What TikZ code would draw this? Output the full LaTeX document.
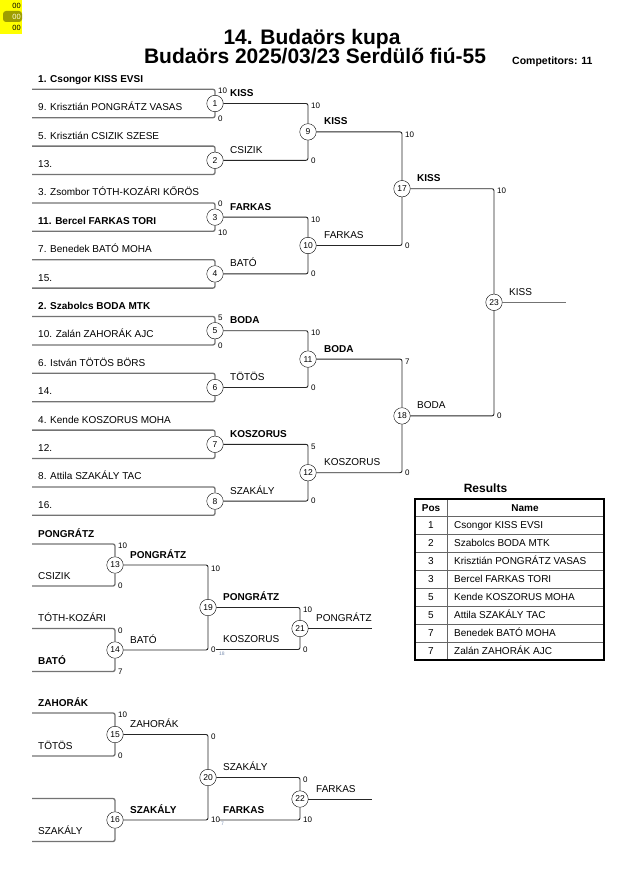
\documentclass[tikz,border=0pt]{standalone}
\usepackage{fontspec}
\setmainfont{Liberation Sans}
\usetikzlibrary{positioning,calc}
\definecolor{hlyellow}{RGB}{255,255,0}
\definecolor{hlolive}{RGB}{158,158,0}
\definecolor{refgray}{RGB}{120,140,175}
\tikzstyle{mnode}=[circle,inner sep=0pt,minimum size=16.5pt,draw=black,fill=white,font=\fontsize{8.5}{8.5}\selectfont]
\tikzstyle{pline}=[draw=black!55,line width=1.3pt,rounded corners=2pt]
\tikzstyle{bline}=[draw=black!85,line width=0.9pt,rounded corners=2pt]
\tikzstyle{pname}=[anchor=base west,inner sep=0pt,font=\fontsize{10}{10}\selectfont]
\tikzstyle{pbold}=[anchor=base west,inner sep=0pt,font=\fontsize{10}{10}\selectfont\bfseries]
\tikzstyle{score}=[anchor=west,inner sep=0pt,font=\fontsize{8}{8}\selectfont]
\tikzstyle{rcell}=[anchor=base west,inner sep=0pt,font=\fontsize{10}{10}\selectfont]
\tikzstyle{rpos}=[anchor=base,inner sep=0pt,font=\fontsize{10}{10}\selectfont]

\begin{document}
\begin{tikzpicture}[x=1pt,y=-1pt]
  \useasboundingbox (0,0) rectangle (630,891);

  % corner widget
  \fill [hlyellow] (0,0) rectangle (22,34);
  \fill [hlolive, rounded corners=3pt] (3,11) rectangle (22,22);
  \node [anchor=east, inner sep=0pt, font=\fontsize{7.5}{7.5}\selectfont] at (21,5.5) (z1) {00};
  \node [anchor=east, inner sep=0pt, font=\fontsize{7.5}{7.5}\selectfont, text=white!85!yellow] at (21,16.5) (z2) {00};
  \node [anchor=east, inner sep=0pt, font=\fontsize{7.5}{7.5}\selectfont] at (21,28) (z3) {00};

  % title
  \node [anchor=base, inner sep=0pt, font=\fontsize{21}{21}\selectfont\bfseries] at (312,45) (title1) {14. Budaörs kupa};
  \node [anchor=base, inner sep=0pt, font=\fontsize{21}{21}\selectfont\bfseries] at (315,63.5) (title2) {Budaörs 2025/03/23 Serdülő fiú-55};
  \node [anchor=base west, inner sep=0pt, font=\fontsize{10.5}{10.5}\selectfont\bfseries] at (512,64) (comp) {Competitors: 11};

  % main bracket, matches
  \node [mnode] at (215, 103.5) (m1) {1};
  \node [mnode] at (215, 160.3) (m2) {2};
  \node [mnode] at (215, 217.1) (m3) {3};
  \node [mnode] at (215, 273.9) (m4) {4};
  \node [mnode] at (215, 330.7) (m5) {5};
  \node [mnode] at (215, 387.5) (m6) {6};
  \node [mnode] at (215, 444.3) (m7) {7};
  \node [mnode] at (215, 501.1) (m8) {8};
  \node [mnode] at (308, 131.9) (m9) {9};
  \node [mnode] at (308, 245.5) (m10) {10};
  \node [mnode] at (308, 359.1) (m11) {11};
  \node [mnode] at (308, 472.7) (m12) {12};
  \node [mnode] at (402, 188.7) (m17) {17};
  \node [mnode] at (402, 415.9) (m18) {18};
  \node [mnode] at (494, 302.3) (m23) {23};
  \coordinate (w23) at (566, 302.3);

  \coordinate (a1) at (32, 89.3);
  \coordinate (a2) at (32, 117.7);
  \coordinate (a3) at (32, 146.1);
  \coordinate (a4) at (32, 174.5);
  \coordinate (a5) at (32, 202.9);
  \coordinate (a6) at (32, 231.3);
  \coordinate (a7) at (32, 259.7);
  \coordinate (a8) at (32, 288.1);
  \coordinate (a9) at (32, 316.5);
  \coordinate (a10) at (32, 344.9);
  \coordinate (a11) at (32, 373.3);
  \coordinate (a12) at (32, 401.7);
  \coordinate (a13) at (32, 430.1);
  \coordinate (a14) at (32, 458.5);
  \coordinate (a15) at (32, 486.9);
  \coordinate (a16) at (32, 515.3);

  \draw [pline] (a1) -| (m1);
  \draw [pline] (a2) -| (m1);
  \draw [pline] (a3) -| (m2);
  \draw [pline] (a4) -| (m2);
  \draw [pline] (a5) -| (m3);
  \draw [pline] (a6) -| (m3);
  \draw [pline] (a7) -| (m4);
  \draw [pline] (a8) -| (m4);
  \draw [pline] (a9) -| (m5);
  \draw [pline] (a10) -| (m5);
  \draw [pline] (a11) -| (m6);
  \draw [pline] (a12) -| (m6);
  \draw [pline] (a13) -| (m7);
  \draw [pline] (a14) -| (m7);
  \draw [pline] (a15) -| (m8);
  \draw [pline] (a16) -| (m8);

  \draw [bline] (m1) -| (m9);
  \draw [bline] (m2) -| (m9);
  \draw [bline] (m3) -| (m10);
  \draw [bline] (m4) -| (m10);
  \draw [bline] (m5) -| (m11);
  \draw [bline] (m6) -| (m11);
  \draw [bline] (m7) -| (m12);
  \draw [bline] (m8) -| (m12);
  \draw [bline] (m9) -| (m17);
  \draw [bline] (m10) -| (m17);
  \draw [bline] (m11) -| (m18);
  \draw [bline] (m12) -| (m18);
  \draw [bline] (m17) -| (m23);
  \draw [bline] (m18) -| (m23);
  \draw [pline] (m23) -- (w23);

  % competitors
  \node [pbold] at (38, 82.3) (t1) {1. Csongor KISS EVSI};
  \node [pname] at (38, 110.7) (t2) {9. Krisztián PONGRÁTZ VASAS};
  \node [pname] at (38, 139.1) (t3) {5. Krisztián CSIZIK SZESE};
  \node [pname] at (38, 167.5) (t4) {13.};
  \node [pname] at (38, 195.9) (t5) {3. Zsombor TÓTH-KOZÁRI KŐRÖS};
  \node [pbold] at (38, 224.3) (t6) {11. Bercel FARKAS TORI};
  \node [pname] at (38, 252.7) (t7) {7. Benedek BATÓ MOHA};
  \node [pname] at (38, 281.1) (t8) {15.};
  \node [pbold] at (38, 309.5) (t9) {2. Szabolcs BODA MTK};
  \node [pname] at (38, 337.9) (t10) {10. Zalán ZAHORÁK AJC};
  \node [pname] at (38, 366.3) (t11) {6. István TÖTÖS BÖRS};
  \node [pname] at (38, 394.7) (t12) {14.};
  \node [pname] at (38, 423.1) (t13) {4. Kende KOSZORUS MOHA};
  \node [pname] at (38, 451.5) (t14) {12.};
  \node [pname] at (38, 479.9) (t15) {8. Attila SZAKÁLY TAC};
  \node [pname] at (38, 508.3) (t16) {16.};

  % winners
  \node [pbold] at (230, 96.5) (n1) {KISS};
  \node [pname] at (230, 153.3) (n2) {CSIZIK};
  \node [pbold] at (230, 210.1) (n3) {FARKAS};
  \node [pname] at (230, 266.9) (n4) {BATÓ};
  \node [pbold] at (230, 323.7) (n5) {BODA};
  \node [pname] at (230, 380.5) (n6) {TÖTÖS};
  \node [pbold] at (230, 437.3) (n7) {KOSZORUS};
  \node [pname] at (230, 494.1) (n8) {SZAKÁLY};
  \node [pbold] at (324, 124.9) (n9) {KISS};
  \node [pname] at (324, 238.5) (n10) {FARKAS};
  \node [pbold] at (324, 352.1) (n11) {BODA};
  \node [pname] at (324, 465.7) (n12) {KOSZORUS};
  \node [pbold] at (417, 181.7) (n17) {KISS};
  \node [pname] at (417, 408.9) (n18) {BODA};
  \node [pname] at (509, 295.3) (n23) {KISS};

  % scores
  \node [score] at (218, 90.3) {10};
  \node [score] at (218, 118.7) {0};
  \node [score] at (218, 203.9) {0};
  \node [score] at (218, 232.3) {10};
  \node [score] at (218, 317.5) {5};
  \node [score] at (218, 345.9) {0};
  \node [score] at (311, 106) {10};
  \node [score] at (311, 160.3) {0};
  \node [score] at (311, 219.6) {10};
  \node [score] at (311, 273.9) {0};
  \node [score] at (311, 333.2) {10};
  \node [score] at (311, 387.5) {0};
  \node [score] at (311, 446.8) {5};
  \node [score] at (311, 501.1) {0};
  \node [score] at (405, 134.4) {10};
  \node [score] at (405, 245.5) {0};
  \node [score] at (405, 361.6) {7};
  \node [score] at (405, 472.7) {0};
  \node [score] at (497, 191.2) {10};
  \node [score] at (497, 415.9) {0};

  % repechage 1
  \node [mnode] at (115, 565) (m13) {13};
  \node [mnode] at (115, 650) (m14) {14};
  \node [mnode] at (208, 607.5) (m19) {19};
  \node [mnode] at (300, 628.5) (m21) {21};
  \coordinate (b1) at (32, 544);
  \coordinate (b2) at (32, 586);
  \coordinate (b3) at (32, 628.5);
  \coordinate (b4) at (32, 671.5);
  \coordinate (k18) at (216, 649.5);
  \coordinate (w21) at (372, 628.5);

  \draw [pline] (b1) -| (m13);
  \draw [pline] (b2) -| (m13);
  \draw [pline] (b3) -| (m14);
  \draw [pline] (b4) -| (m14);
  \draw [bline] (m13) -| (m19);
  \draw [bline] (m14) -| (m19);
  \draw [bline] (m19) -| (m21);
  \draw [bline] (k18) -| (m21);
  \draw [bline] (m21) -- (w21);

  \node [pbold] at (38, 537) (u1) {PONGRÁTZ};
  \node [pname] at (38, 579) (u2) {CSIZIK};
  \node [pname] at (38, 621.5) (u3) {TÓTH-KOZÁRI};
  \node [pbold] at (38, 664.5) (u4) {BATÓ};
  \node [pbold] at (130, 558) (n13) {PONGRÁTZ};
  \node [pname] at (130, 643) (n14) {BATÓ};
  \node [pbold] at (223, 600.5) (n19) {PONGRÁTZ};
  \node [pname] at (223, 642.5) (nk18) {KOSZORUS};
  \node [pname] at (316, 621.5) (n21) {PONGRÁTZ};

  \node [score] at (118, 546) {10};
  \node [score] at (118, 586) {0};
  \node [score] at (118, 630.5) {0};
  \node [score] at (118, 671.5) {7};
  \node [score] at (211, 569) {10};
  \node [score] at (211, 650) {0};
  \node [score] at (303, 610) {10};
  \node [score] at (303, 649.5) {0};
  \node [score, font=\fontsize{5}{5}\selectfont, text=refgray] at (219, 654) {18};

  % repechage 2
  \node [mnode] at (115, 734.5) (m15) {15};
  \node [mnode] at (115, 820) (m16) {16};
  \node [mnode] at (208, 777.5) (m20) {20};
  \node [mnode] at (300, 799) (m22) {22};
  \coordinate (c1) at (32, 713);
  \coordinate (c2) at (32, 756);
  \coordinate (c3) at (32, 798.5);
  \coordinate (c4) at (32, 841.5);
  \coordinate (l17) at (219, 820);
  \coordinate (w22) at (372, 799);

  \draw [pline] (c1) -| (m15);
  \draw [pline] (c2) -| (m15);
  \draw [pline] (c3) -| (m16);
  \draw [pline] (c4) -| (m16);
  \draw [bline] (m15) -| (m20);
  \draw [bline] (m16) -| (m20);
  \draw [bline] (m20) -| (m22);
  \draw [bline] (l17) -| (m22);
  \draw [bline] (m22) -- (w22);

  \node [pbold] at (38, 706) (v1) {ZAHORÁK};
  \node [pname] at (38, 749) (v2) {TÖTÖS};
  \node [pname] at (38, 834.5) (v4) {SZAKÁLY};
  \node [pname] at (130, 727.5) (n15) {ZAHORÁK};
  \node [pbold] at (130, 813) (n16) {SZAKÁLY};
  \node [pname] at (223, 770.5) (n20) {SZAKÁLY};
  \node [pbold] at (223, 813) (nl17) {FARKAS};
  \node [pname] at (316, 792) (n22) {FARKAS};

  \node [score] at (118, 715) {10};
  \node [score] at (118, 756) {0};
  \node [score] at (211, 737) {0};
  \node [score] at (211, 820) {10};
  \node [score] at (303, 780) {0};
  \node [score] at (303, 820) {10};
  \node [score, font=\fontsize{5}{5}\selectfont, text=refgray] at (221, 823.5) {7};

  % results
  \node [anchor=base, inner sep=0pt, font=\fontsize{12}{12}\selectfont\bfseries] at (485.5, 492.7) (restitle) {Results};
  \draw [black!60, line width=0.5pt] (447, 499) -- (447, 660);
  \draw [black!60, line width=0.5pt] (415, 516) -- (604, 516);
  \draw [black!60, line width=0.5pt] (415, 534) -- (604, 534);
  \draw [black!60, line width=0.5pt] (415, 552) -- (604, 552);
  \draw [black!60, line width=0.5pt] (415, 570) -- (604, 570);
  \draw [black!60, line width=0.5pt] (415, 588) -- (604, 588);
  \draw [black!60, line width=0.5pt] (415, 606) -- (604, 606);
  \draw [black!60, line width=0.5pt] (415, 624) -- (604, 624);
  \draw [black!60, line width=0.5pt] (415, 642) -- (604, 642);
  \draw [line width=1.5pt] (415, 499) rectangle (604, 660);

  \node [rpos, font=\fontsize{10}{10}\selectfont\bfseries] at (431, 511) (hpos) {Pos};
  \node [rpos, font=\fontsize{10}{10}\selectfont\bfseries] at (525, 511) (hname) {Name};
  \node [rpos] at (431, 528.6) (p1) {1};
  \node [rcell] at (454, 528.6) (r1) {Csongor KISS EVSI};
  \node [rpos] at (431, 546.6) (p2) {2};
  \node [rcell] at (454, 546.6) (r2) {Szabolcs BODA MTK};
  \node [rpos] at (431, 564.6) (p3) {3};
  \node [rcell] at (454, 564.6) (r3) {Krisztián PONGRÁTZ VASAS};
  \node [rpos] at (431, 582.6) (p4) {3};
  \node [rcell] at (454, 582.6) (r4) {Bercel FARKAS TORI};
  \node [rpos] at (431, 600.6) (p5) {5};
  \node [rcell] at (454, 600.6) (r5) {Kende KOSZORUS MOHA};
  \node [rpos] at (431, 618.6) (p6) {5};
  \node [rcell] at (454, 618.6) (r6) {Attila SZAKÁLY TAC};
  \node [rpos] at (431, 636.6) (p7) {7};
  \node [rcell] at (454, 636.6) (r7) {Benedek BATÓ MOHA};
  \node [rpos] at (431, 654.6) (p8) {7};
  \node [rcell] at (454, 654.6) (r8) {Zalán ZAHORÁK AJC};
\end{tikzpicture}
\end{document}
